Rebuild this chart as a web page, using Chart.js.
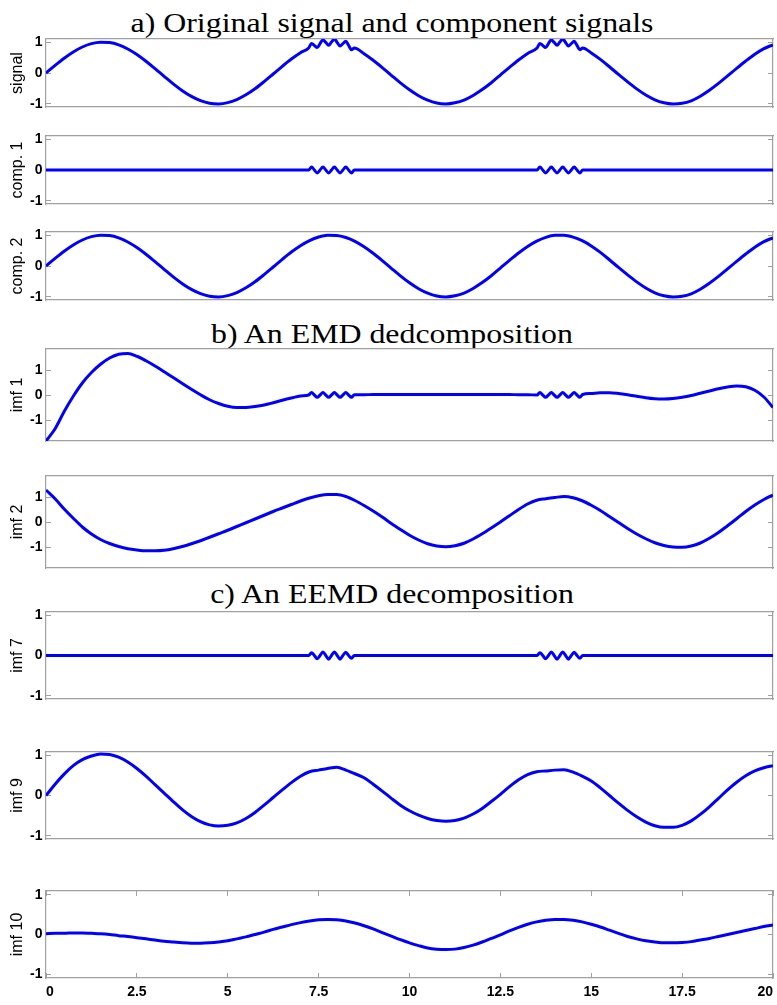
<!DOCTYPE html>
<html>
<head>
<meta charset="utf-8">
<script src="https://cdn.jsdelivr.net/npm/chart.js@4.4.1/dist/chart.umd.min.js"></script>
<style>
html,body{margin:0;padding:0;background:#fff;}
#wrap{position:relative;width:777px;height:1005px;overflow:hidden;background:#fff;}
canvas{position:absolute;left:0;}
.ttl{position:absolute;left:0;width:784px;text-align:center;font-family:'Liberation Serif','Times New Roman',serif;font-size:27px;line-height:28px;color:#000;white-space:nowrap;transform:scaleX(1.18);transform-origin:392px 50%;}
</style>
</head>
<body>
<div id="wrap">
<div class="ttl" style="top:9px">a) Original signal and component signals</div>
<div class="ttl" style="top:320px">b) An EMD dedcomposition</div>
<div class="ttl" style="top:580px">c) An EEMD decomposition</div>
</div>
<script>
// ---------- data ----------
const tFine = [0,0.25,0.5,0.75,1,1.25,1.5,1.75,2,2.25,2.5,2.75,3,3.25,3.5,3.75,4,4.25,4.5,4.75,5,5.25,5.5,5.75,6,6.25,6.5,6.75,7,
  7.226,7.305,7.383,7.462,7.540,7.619,7.697,7.776,7.854,7.933,8.011,8.090,8.168,8.247,8.325,8.404,8.482,
  8.75,9,9.25,9.5,9.75,10,10.25,10.5,10.75,11,11.25,11.5,11.75,12,12.25,12.5,12.75,13,13.25,
  13.509,13.587,13.666,13.744,13.823,13.901,13.980,14.058,14.137,14.215,14.294,14.372,14.451,14.529,14.608,14.686,14.765,
  15,15.25,15.5,15.75,16,16.25,16.5,16.75,17,17.25,17.5,17.75,18,18.25,18.5,18.75,19,19.25,19.5,19.75,20];

const tSmooth = [0,0.25,0.5,0.75,1,1.25,1.5,1.75,2,2.25,2.5,2.75,3,3.25,3.5,3.75,4,4.25,4.5,4.75,5,5.25,5.5,5.75,6,6.25,6.5,6.75,7,
  7.25,7.5,7.75,8,8.25,8.5,
  8.75,9,9.25,9.5,9.75,10,10.25,10.5,10.75,11,11.25,11.5,11.75,12,12.25,12.5,12.75,13,13.25,
  13.5,13.75,14,14.25,14.5,14.75,
  15,15.25,15.5,15.75,16,16.25,16.5,16.75,17,17.25,17.5,17.75,18,18.25,18.5,18.75,19,19.25,19.5,19.75,20];

const xTickValues = [0,2.5,5,7.5,10,12.5,15,17.5,20];
const yTickValues = [-1,0,1];

const signal = [0,0.247,0.479,0.682,0.841,0.949,0.997,0.984,0.909,0.778,0.598,0.382,0.141,-0.108,-0.351,-0.572,-0.757,-0.895,-0.978,-0.999,-0.959,-0.859,-0.706,-0.510,-0.279,-0.033,0.215,0.451,0.657,
  0.809,0.953,0.891,0.824,0.951,1.072,0.988,0.897,1.000,1.097,0.988,0.872,0.951,1.024,0.891,0.753,0.809,
  0.624,0.412,0.174,-0.075,-0.319,-0.544,-0.736,-0.880,-0.972,-1.000,-0.962,-0.875,-0.726,-0.537,-0.316,-0.066,0.183,0.420,0.632,
  0.809,0.953,0.891,0.824,0.951,1.072,0.988,0.897,1.000,1.097,0.988,0.872,0.951,1.024,0.891,0.753,0.809,
  0.650,0.441,0.202,-0.047,-0.288,-0.514,-0.712,-0.866,-0.961,-0.999,-0.980,-0.899,-0.751,-0.560,-0.338,-0.095,0.150,0.387,0.606,0.788,0.913];

const comp1 = [0,0,0,0,0,0,0,0,0,0,0,0,0,0,0,0,0,0,0,0,0,0,0,0,0,0,0,0,0,
  0,0.1,0,-0.1,0,0.1,0,-0.1,0,0.1,0,-0.1,0,0.1,0,-0.1,0,
  0,0,0,0,0,0,0,0,0,0,0,0,0,0,0,0,0,0,0,
  0,0.1,0,-0.1,0,0.1,0,-0.1,0,0.1,0,-0.1,0,0.1,0,-0.1,0,
  0,0,0,0,0,0,0,0,0,0,0,0,0,0,0,0,0,0,0,0,0];

const comp2 = [0,0.247,0.479,0.682,0.841,0.949,0.997,0.984,0.909,0.778,0.598,0.382,0.141,-0.108,-0.351,-0.572,-0.757,-0.895,-0.978,-0.999,-0.959,-0.859,-0.706,-0.510,-0.279,-0.033,0.215,0.451,0.657,
  0.823,0.938,0.995,0.989,0.922,0.798,
  0.624,0.412,0.174,-0.075,-0.319,-0.544,-0.736,-0.880,-0.972,-1.000,-0.962,-0.875,-0.726,-0.537,-0.316,-0.066,0.183,0.420,0.632,
  0.804,0.927,0.991,0.994,0.935,0.818,
  0.650,0.441,0.202,-0.047,-0.288,-0.514,-0.712,-0.866,-0.961,-0.999,-0.980,-0.899,-0.751,-0.560,-0.338,-0.095,0.150,0.387,0.606,0.788,0.913];

const emdImf1 = [-1.84,-1.35,-0.66,-0.05,0.48,0.90,1.23,1.48,1.63,1.66,1.55,1.37,1.16,0.93,0.70,0.46,0.23,0.01,-0.19,-0.34,-0.45,-0.50,-0.50,-0.46,-0.40,-0.31,-0.21,-0.12,-0.04,
  0.00,0.10,0.00,-0.09,0.00,0.10,0.00,-0.09,0.00,0.10,0.00,-0.09,0.00,0.10,0.00,-0.09,0.01,
  0.01,0.02,0.02,0.02,0.02,0.02,0.02,0.02,0.02,0.02,0.02,0.02,0.02,0.02,0.02,0.02,0.02,0.01,0.01,
  0.00,0.10,0.00,-0.09,0.00,0.10,0.00,-0.09,0.00,0.10,0.00,-0.09,0.00,0.10,0.00,-0.09,0.02,
  0.06,0.09,0.09,0.06,0.01,-0.05,-0.11,-0.15,-0.16,-0.14,-0.09,-0.02,0.07,0.16,0.25,0.32,0.36,0.33,0.19,-0.08,-0.50];

const emdImf2 = [1.28,0.93,0.52,0.15,-0.20,-0.48,-0.70,-0.86,-0.98,-1.07,-1.12,-1.15,-1.15,-1.13,-1.07,-0.98,-0.87,-0.75,-0.61,-0.47,-0.33,-0.18,-0.03,0.12,0.27,0.42,0.56,0.70,0.84,
  0.96,1.05,1.10,1.10,1.02,0.86,
  0.66,0.44,0.20,-0.06,-0.30,-0.53,-0.72,-0.87,-0.96,-0.99,-0.95,-0.85,-0.68,-0.47,-0.24,0.00,0.25,0.50,0.72,
  0.87,0.93,0.98,1.02,0.97,0.85,
  0.67,0.46,0.22,-0.02,-0.26,-0.48,-0.67,-0.83,-0.94,-1.00,-1.01,-0.96,-0.84,-0.65,-0.42,-0.15,0.13,0.42,0.68,0.90,1.08];

const eemdImf7 = [0,0,0,0,0,0,0,0,0,0,0,0,0,0,0,0,0,0,0,0,0,0,0,0,0,0,0,0,0,
  0,0.07,0,-0.08,0,0.09,0,-0.09,0,0.09,0,-0.09,0,0.08,0,-0.07,0,
  0,0,0,0,0,0,0,0,0,0,0,0,0,0,0,0,0,0,0,
  0,0.07,0,-0.08,0,0.09,0,-0.09,0,0.09,0,-0.09,0,0.08,0,-0.07,0,
  0,0,0,0,0,0,0,0,0,0,0,0,0,0,0,0,0,0,0,0,0];

const eemdImf9 = [0,0.28,0.53,0.74,0.89,0.98,1.03,1.02,0.95,0.83,0.67,0.48,0.27,0.06,-0.15,-0.35,-0.52,-0.65,-0.73,-0.76,-0.74,-0.68,-0.57,-0.42,-0.24,-0.05,0.14,0.32,0.48,
  0.59,0.63,0.67,0.70,0.63,0.54,
  0.44,0.28,0.11,-0.07,-0.24,-0.38,-0.49,-0.57,-0.62,-0.64,-0.62,-0.56,-0.46,-0.32,-0.15,0.03,0.22,0.39,0.52,
  0.59,0.61,0.63,0.64,0.58,0.48,
  0.36,0.19,0.00,-0.19,-0.37,-0.53,-0.66,-0.75,-0.79,-0.79,-0.74,-0.63,-0.47,-0.28,-0.07,0.14,0.33,0.49,0.61,0.69,0.74];

const eemdImf10 = [0.02,0.03,0.03,0.04,0.04,0.03,0.02,0.00,-0.03,-0.05,-0.08,-0.11,-0.14,-0.17,-0.19,-0.21,-0.22,-0.22,-0.21,-0.19,-0.16,-0.11,-0.06,0.00,0.06,0.13,0.19,0.25,0.30,
  0.34,0.37,0.38,0.37,0.34,0.29,
  0.22,0.14,0.05,-0.04,-0.13,-0.21,-0.28,-0.34,-0.37,-0.38,-0.37,-0.33,-0.27,-0.19,-0.10,-0.01,0.09,0.18,0.26,
  0.32,0.36,0.38,0.38,0.36,0.32,
  0.26,0.19,0.11,0.03,-0.05,-0.11,-0.16,-0.19,-0.21,-0.21,-0.20,-0.18,-0.14,-0.10,-0.05,0.00,0.05,0.10,0.15,0.20,0.24];

// ---------- layout (separate from data) ----------
const panels = [
  {label:'signal',  xs:tFine,   ys:signal,    top:39,  bottom:107, lim:1.1},
  {label:'comp. 1', xs:tFine,   ys:comp1,     top:136, bottom:204, lim:1.1},
  {label:'comp. 2', xs:tSmooth, ys:comp2,     top:232, bottom:300, lim:1.1},
  {label:'imf 1',   xs:tFine,   ys:emdImf1,   top:349, bottom:441, lim:1.84},
  {label:'imf 2',   xs:tSmooth, ys:emdImf2,   top:476, bottom:568, lim:1.84},
  {label:'imf 7',   xs:tFine,   ys:eemdImf7,  top:612, bottom:699, lim:1.08},
  {label:'imf 9',   xs:tSmooth, ys:eemdImf9,  top:752, bottom:839, lim:1.08},
  {label:'imf 10',  xs:tSmooth, ys:eemdImf10, top:891, bottom:978, lim:1.1, last:true}
];

const SANS = "'Liberation Sans', Arial, Helvetica, sans-serif";
const GRAY = '#a0a0a0';
const LEFT_W = 46, RIGHT_W = 4, PAD = 8, XLAB_H = 30;
Chart.defaults.font.family = SANS;

const wrap = document.getElementById('wrap');

function setTicks(values){ return s => { s.ticks = values.map(v => ({value:v})); }; }
function fixSize(w, h){
  return s => {
    if (w !== null) s.width = w;
    if (h !== null) s.height = h;
    s.paddingTop = 0; s.paddingBottom = 0; s.paddingLeft = 0; s.paddingRight = 0;
  };
}

panels.forEach(p => {
  const last = !!p.last;
  const h = (p.bottom - p.top) + PAD + (last ? XLAB_H : PAD);
  const c = document.createElement('canvas');
  c.width = 777; c.height = h;
  c.style.width = '777px'; c.style.height = h + 'px';
  c.style.top = (p.top - PAD) + 'px';
  wrap.appendChild(c);

  const gridOpts = (drawTicks) => ({display:true, drawOnChartArea:false, drawTicks:drawTicks, tickLength:-5, color:GRAY, lineWidth:1});
  const borderOpts = {display:true, color:GRAY, width:1.2};

  new Chart(c, {
    type:'line',
    data:{datasets:[{
      data:p.xs.map((x,i) => ({x:x, y:p.ys[i]})),
      borderColor:'#0000ff', borderWidth:3, pointRadius:0, fill:false,
      cubicInterpolationMode:'monotone'
    }]},
    options:{
      responsive:false, animation:false, events:[],
      layout:{padding:{top:PAD, bottom:last ? 0 : PAD, left:0, right:0}},
      plugins:{legend:{display:false}, tooltip:{enabled:false}, title:{display:false}},
      scales:{
        x:{type:'linear', position:'bottom', min:0, max:20,
           afterBuildTicks:setTicks(xTickValues),
           ticks:{display:last, padding:11, align:'inner', autoSkip:false, maxRotation:0, color:'#000', font:{family:SANS, size:14, weight:'bold'}, callback:v => String(v)},
           grid:gridOpts(last), border:borderOpts,
           afterFit:fixSize(null, last ? XLAB_H : 0)},
        xTop:{type:'linear', axis:'x', position:'top', min:0, max:20,
           afterBuildTicks:setTicks(xTickValues),
           ticks:{display:false},
           grid:gridOpts(last), border:borderOpts,
           afterFit:fixSize(null, 0)},
        y:{type:'linear', position:'left', min:-p.lim, max:p.lim,
           afterBuildTicks:setTicks(yTickValues),
           ticks:{padding:8.5, color:'#000', font:{family:SANS, size:14, weight:'bold'}, callback:v => String(v)},
           grid:gridOpts(true), border:borderOpts,
           title:{display:true, text:p.label, color:'#000', font:{family:SANS, size:16}, padding:{top:8.4, bottom:0}},
           afterFit:fixSize(LEFT_W, null)},
        yRight:{type:'linear', axis:'y', position:'right', min:-p.lim, max:p.lim,
           afterBuildTicks:setTicks(yTickValues),
           ticks:{display:false},
           grid:gridOpts(true), border:borderOpts,
           afterFit:fixSize(RIGHT_W, null)}
      }
    }
  });
});
</script>
</body>
</html>
